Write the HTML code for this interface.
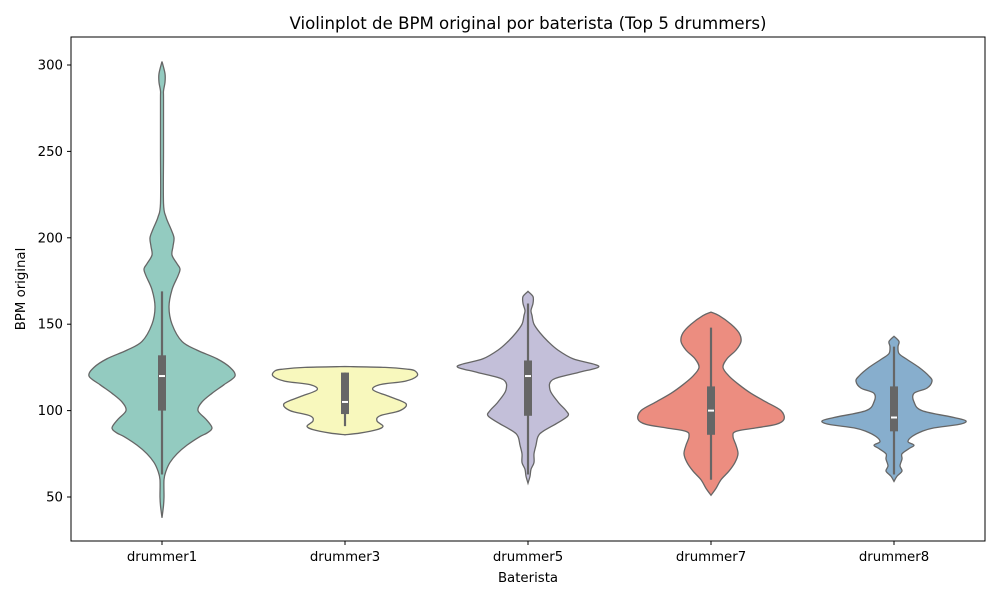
<!DOCTYPE html>
<html><head><meta charset="utf-8"><style>
body{margin:0;background:#fff;font-family:"Liberation Sans","DejaVu Sans",sans-serif}
svg text{font-family:"DejaVu Sans","Liberation Sans",sans-serif}
</style></head><body>
<svg id="chart" width="1000" height="600" viewBox="0 0 1000 600">
<rect width="1000" height="600" fill="#fff"/>
<text x="528" y="29" font-size="16.6" text-anchor="middle">Violinplot de BPM original por baterista (Top 5 drummers)</text>
<g id="marks"></g>
<rect x="71" y="37" width="914" height="504" fill="none" stroke="#000" stroke-width="1"/>
<g id="axes"></g>
<text x="528" y="582" font-size="13.3" text-anchor="middle">Baterista</text>
<text x="25" y="289" font-size="13.3" text-anchor="middle" transform="rotate(-90 25 289)">BPM original</text>
</svg>
<script>
const categories=["drummer1","drummer3","drummer5","drummer7","drummer8"];
const colors=["#93cbc0","#f8f8bd","#c3bfd9","#ec8d80","#87aecd"];
const yTicks=[50,100,150,200,250,300];
const profileVals=[
[302,295,290,285,280,250,220,212,205,200,195,190,185,182,178,170,160,150,140,135,130,125,120,115,110,105,100,95,90,87,85,80,75,70,65,60,50,45,38],
[125.5,125,124,123,120,117,115,112,108,104,100,97,94,91,89,87,86],
[169,166,162,158,155,150,145,140,135,130,127,125,122,118,112,105,100,97,93,88,85,80,75,70,66,62,58],
[157,155,150,145,140,135,130,125,120,115,110,105,100,95,92,90,88,85,80,75,70,65,60,55,51],
[143,140,137,133,130,125,120,117,113,110,105,100,96,94,92,90,88,85,82,80,78,75,72,68,65,62,59]];
const profileWidths=[
[0,3,3,1.5,1.5,1.5,1.5,4,9,12,11,10,15,18,16,10,7,10,20,35,55,68,73,62,50,40,36,44,50,45,38,25,15,8,4,2,2,1.5,0],
[0,40,62,70,72,60,35,28,45,61,55,35,32,38,32,15,0],
[0,5,5,3,4,6,12,20,30,45,65,70,50,25,22,30,38,40,30,15,10,8,6,6,3,2,0],
[0,8,20,28,30,25,16,12,18,28,40,55,70,73,65,45,25,22,25,27,24,18,10,5,0],
[0,5,4,5,12,25,35,38,33,20,20,28,60,72,65,40,28,18,14,20,15,8,8,6,8,3,0]];
const q1=[100,98,97,86,88],q3=[132,122,129,114,114],med=[120,105,120,100,96],wLo=[63,91,63,60,63],wHi=[169,122,162,148,137];
const NS="http://www.w3.org/2000/svg";
const x=i=>162+i*183;
const y=v=>65+(300-v)*1.728;
function el(t,a,p){const e=document.createElementNS(NS,t);for(const k in a)e.setAttribute(k,a[k]);p.appendChild(e);return e;}
function smooth(pts){let d=`M${pts[0][0]},${pts[0][1]}`;for(let i=0;i<pts.length-1;i++){const p0=pts[i-1]||pts[i],p1=pts[i],p2=pts[i+1],p3=pts[i+2]||p2;
d+=` C${p1[0]+(p2[0]-p0[0])/6},${p1[1]+(p2[1]-p0[1])/6} ${p2[0]-(p3[0]-p1[0])/6},${p2[1]-(p3[1]-p1[1])/6} ${p2[0]},${p2[1]}`;}return d;}
const marks=document.getElementById('marks'),axes=document.getElementById('axes');
categories.forEach((c,i)=>{
 const cx=x(i),v=profileVals[i],w=profileWidths[i];
 const right=v.map((val,k)=>[cx+w[k],y(val)]);
 const left=v.map((val,k)=>[cx-w[k],y(val)]).reverse();
 const d=smooth(right)+' L'+smooth(left).slice(1)+'Z';
 const p=el('path',{d:d,fill:colors[i],stroke:'#666',"stroke-width":1.3},marks);
 
 
 const wl=el('line',{x1:cx,x2:cx,y1:y(wLo[i]),y2:y(wHi[i]),stroke:'#666',"stroke-width":2.2},marks);
 
 
 const b=el('rect',{x:cx-4,width:8,y:y(q3[i]),height:y(q1[i])-y(q3[i]),fill:'#666'},marks);
 
 
 const m=el('line',{x1:cx-3,x2:cx+3,y1:y(med[i]),y2:y(med[i]),stroke:'#fff',"stroke-width":2},marks);
 
 
 el('line',{x1:cx,x2:cx,y1:541,y2:545,stroke:'#000'},axes);
 const t=el('text',{x:cx,y:561,"font-size":13.3,"text-anchor":"middle"},axes);t.textContent=c;
 
 
});
yTicks.forEach(v=>{
 el('line',{x1:67,x2:71,y1:y(v),y2:y(v),stroke:'#000'},axes);
 const t=el('text',{x:63,y:y(v)+4.5,"font-size":13.3,"text-anchor":"end"},axes);t.textContent=v;
 
 
});
</script>
</body></html>
